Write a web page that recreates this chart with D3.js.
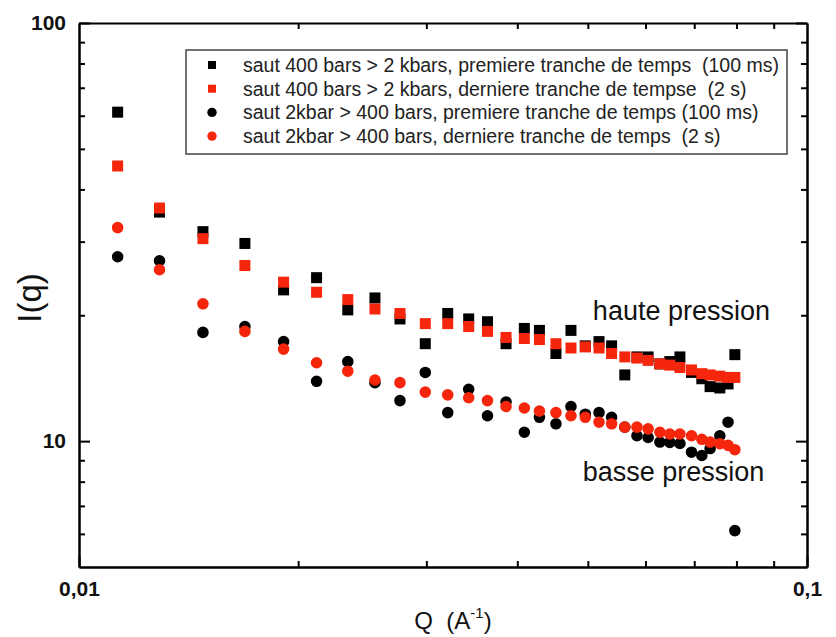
<!DOCTYPE html>
<html>
<head>
<meta charset="utf-8">
<script src="https://cdn.jsdelivr.net/npm/d3@7"></script>
<style>
    body { margin: 0; background: #fff; }
    svg { display: block; font-family: "Liberation Sans", Arial, sans-serif; }
    text { white-space: pre; }
</style>
</head>
<body>
<svg id="chart" width="836" height="637"></svg>
<script>
// Q values (A^-1), shared by the four series
const qValues = [0.0113, 0.0129, 0.0148, 0.0169, 0.0191, 0.0212, 0.0234, 0.0255, 0.0276, 0.0299,
    0.0321, 0.0343, 0.0364, 0.0386, 0.0409, 0.0429, 0.0452, 0.0474, 0.0496, 0.0518,
    0.0539, 0.0562, 0.0584, 0.0605, 0.0628, 0.0648, 0.0669, 0.0694, 0.0717, 0.0736,
    0.0759, 0.0779, 0.0796];

// saut 400 bars > 2 kbars, premiere tranche
const upFirst = [61.2, 35.3, 31.7, 29.7, 23.0, 24.6, 20.6, 22.0, 19.6, 17.1,
    20.2, 19.6, 19.3, 17.1, 18.6, 18.4, 16.2, 18.4, 16.9, 17.3,
    16.9, 14.4, 15.9, 15.9, 15.3, 15.5, 15.9, 14.6, 14.1, 13.5,
    13.4, 13.7, 16.1];
// saut 400 bars > 2 kbars, derniere tranche
const upLast = [45.5, 36.1, 30.5, 26.3, 24.0, 22.7, 21.8, 20.7, 20.2, 19.1,
    19.1, 18.8, 18.3, 17.7, 17.6, 17.5, 17.1, 16.7, 16.8, 16.7,
    16.2, 15.9, 15.8, 15.6, 15.3, 15.2, 15.0, 14.8, 14.5, 14.4,
    14.3, 14.2, 14.2];
// saut 2kbar > 400 bars, premiere tranche
const downFirst = [27.6, 27.0, 18.2, 18.8, 17.3, 13.9, 15.5, 13.8, 12.5, 14.6,
    11.7, 13.3, 11.5, 12.4, 10.5, 11.4, 11.0, 12.1, 11.6, 11.7,
    11.4, 10.8, 10.3, 10.2, 9.95, 9.93, 9.87, 9.41, 9.24, 9.6,
    10.3, 11.1, 6.11];
// saut 2kbar > 400 bars, derniere tranche
const downLast = [32.4, 25.7, 21.3, 18.3, 16.6, 15.4, 14.7, 14.0, 13.8, 13.1,
    12.9, 12.7, 12.5, 12.1, 12.0, 11.8, 11.7, 11.5, 11.4, 11.1,
    11.0, 10.8, 10.8, 10.7, 10.5, 10.4, 10.4, 10.3, 10.1, 9.95,
    9.86, 9.77, 9.54];

const legendLabels = [
    'saut 400 bars > 2 kbars, premiere tranche de temps  (100 ms)',
    'saut 400 bars > 2 kbars, derniere tranche de tempse  (2 s)',
    'saut 2kbar > 400 bars, premiere tranche de temps (100 ms)',
    'saut 2kbar > 400 bars, derniere tranche de temps  (2 s)'
];

const xMajor = [0.01, 0.1];
const xMinor = [0.02, 0.03, 0.04, 0.05, 0.06, 0.07, 0.08, 0.09];
const yMajor = [10, 100];
const yMinor = [6, 7, 8, 9, 20, 30, 40, 50, 60, 70, 80, 90];

const RED = '#f5260c';

const series = [
    {values: upFirst, shape: 'square', color: '#000', label: legendLabels[0]},
    {values: upLast, shape: 'square', color: RED, label: legendLabels[1]},
    {values: downFirst, shape: 'circle', color: '#000', label: legendLabels[2]},
    {values: downLast, shape: 'circle', color: RED, label: legendLabels[3]}
];

const margin = {top: 23, right: 29, bottom: 70, left: 79};
const width = 836 - margin.left - margin.right,
    height = 637 - margin.top - margin.bottom;

const svg = d3.select('#chart');
const g = svg.append('g')
    .attr('transform', `translate(${margin.left},${margin.top})`);

const x = d3.scaleLog().domain([0.01, 0.1]).range([0, width]);
const y = d3.scaleLog().domain([5, 100]).range([height, 0]);

// axes: ticks point inward on all four sides
function styleAxis(sel) {
    sel.select('.domain').attr('stroke', '#000').attr('stroke-width', 2);
    sel.selectAll('.tick line').attr('stroke', '#000').attr('stroke-width', 2);
    sel.selectAll('text').attr('fill', '#111').attr('font-size', '21px').attr('font-weight', 'bold');
}

const fmtX = d => d === 0.01 ? '0,01' : '0,1';

g.append('g').attr('transform', `translate(0,${height})`)
    .call(d3.axisBottom(x).tickValues(xMinor).tickSize(-6).tickSizeOuter(0).tickFormat(''))
    .call(styleAxis);
g.append('g').attr('transform', `translate(0,${height})`)
    .call(d3.axisBottom(x).tickValues(xMajor).tickSize(-11).tickSizeOuter(0).tickPadding(14).tickFormat(fmtX))
    .call(styleAxis);
g.append('g')
    .call(d3.axisTop(x).tickValues(xMinor).tickSize(-6).tickSizeOuter(0).tickFormat(''))
    .call(styleAxis);

g.append('g')
    .call(d3.axisLeft(y).tickValues(yMinor).tickSize(-6).tickSizeOuter(0).tickFormat(''))
    .call(styleAxis);
g.append('g')
    .call(d3.axisLeft(y).tickValues(yMajor).tickSize(-11).tickSizeOuter(0).tickPadding(13).tickFormat(d3.format('d')))
    .call(styleAxis);
g.append('g').attr('transform', `translate(${width},0)`)
    .call(d3.axisRight(y).tickValues(yMinor).tickSize(-6).tickSizeOuter(0).tickFormat(''))
    .call(styleAxis);
g.append('g').attr('transform', `translate(${width},0)`)
    .call(d3.axisRight(y).tickValues(yMajor).tickSize(-11).tickSizeOuter(0).tickFormat(''))
    .call(styleAxis);

// axis titles
const xTitle = svg.append('text')
    .attr('x', 453)
    .attr('y', 629)
    .attr('text-anchor', 'middle')
    .attr('font-size', '24px')
    .attr('fill', '#111');
xTitle.append('tspan').text('Q  (A');
xTitle.append('tspan').attr('font-size', '15px').attr('dy', -11).text('-1');
xTitle.append('tspan').attr('dy', 11).text(')');

svg.append('text')
    .attr('transform', `translate(41,298) rotate(-90)`)
    .attr('text-anchor', 'middle')
    .attr('font-size', '33px')
    .attr('fill', '#111')
    .text('I(q)');

// markers
const symSquare = d3.symbol().type(d3.symbolSquare).size(121);
const symCircle = d3.symbol().type(d3.symbolCircle).size(105);

series.forEach(s => {
    g.append('g').selectAll('path')
        .data(qValues.map((q, i) => ({q: q, v: s.values[i]})))
        .join('path')
        .attr('d', s.shape === 'square' ? symSquare() : symCircle())
        .attr('transform', d => `translate(${x(d.q)},${y(d.v)})`)
        .attr('fill', s.color);
});

// annotations
g.append('text')
    .attr('x', x(0.0508)).attr('y', y(19.45))
    .attr('font-size', '27px').attr('fill', '#111')
    .text('haute pression');
g.append('text')
    .attr('x', x(0.0492)).attr('y', y(8.05))
    .attr('font-size', '27px').attr('fill', '#111')
    .text('basse pression');

// legend
const legend = svg.append('g').attr('transform', 'translate(186,50)');
legend.append('rect')
    .attr('width', 601).attr('height', 104)
    .attr('fill', '#fff').attr('stroke', '#444').attr('stroke-width', 1.5);
const rows = legend.selectAll('.legend-row')
    .data(series)
    .join('g')
    .attr('class', 'legend-row')
    .attr('transform', (d, i) => `translate(26,${15 + i * 23.7})`);
rows.append('path')
    .attr('d', d => d.shape === 'square' ? d3.symbol().type(d3.symbolSquare).size(64)() : d3.symbol().type(d3.symbolCircle).size(70)())
    .attr('fill', d => d.color);
rows.append('text')
    .attr('x', 31).attr('dy', '0.35em')
    .attr('font-size', '19.5px').attr('fill', '#222')
    .text(d => d.label);
</script>
</body>
</html>
